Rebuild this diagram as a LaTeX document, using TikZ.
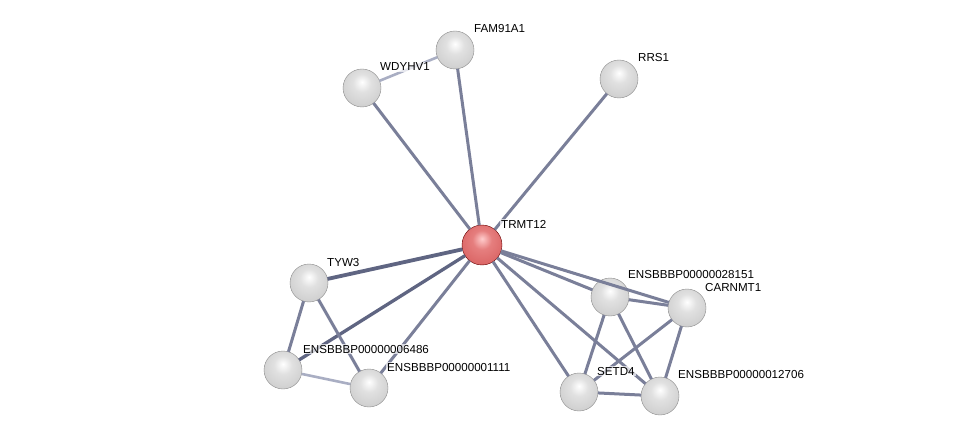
\documentclass[tikz,border=0pt]{standalone}
\usepackage{fontspec}
\setmainfont{Liberation Sans}
\usetikzlibrary{positioning}

\definecolor{edgecol}{HTML}{7A7F99}
\definecolor{edgedark}{HTML}{5F6582}
\definecolor{edgelight}{HTML}{A9AEC3}
\pgfdeclareradialshading{greyball}{\pgfpoint{0bp}{8bp}}{%
  color(0bp)=(white); color(12bp)=(white!88!black); color(32bp)=(white!80!black);
  color(44bp)=(white!70!black); color(60bp)=(white!58!black)}
\pgfdeclareradialshading{redball}{\pgfpoint{0bp}{8bp}}{%
  color(0bp)=(white!80!red); color(12bp)=(red!45!white!90!black); color(32bp)=(red!55!white!85!black);
  color(44bp)=(red!60!white!70!black); color(60bp)=(red!60!black)}

\begin{document}
\begin{tikzpicture}[
  x=1pt, y=-1pt,
  font=\fontsize{11.6}{13}\selectfont,
  prot/.style={circle, minimum size=38pt, inner sep=0pt, outer sep=0pt, shading=greyball, draw=white!55!black, line width=0.4pt},
  query/.style={prot, minimum size=40pt, shading=redball, draw=red!40!black},
  lbl/.style={anchor=base west, inner sep=1pt, fill=white, fill opacity=0.7, text opacity=1},
  link/.style={draw=edgecol, line width=3pt},
  strong/.style={link, draw=edgedark, line width=3.8pt},
  weak/.style={link, draw=edgelight, line width=2.6pt}
]
\useasboundingbox[fill=white] (0,0) rectangle (975,441);

% proteins
\node[query] (trmt12) at (482,245) {};
\node[prot] (fam91a1) at (455,50) {};
\node[prot] (wdyhv1) at (362,88) {};
\node[prot] (rrs1) at (619,79) {};
\node[prot] (tyw3) at (309,283) {};
\node[prot] (p6486) at (283,370) {};
\node[prot] (p1111) at (369,388) {};
\node[prot] (p28151) at (610,297) {};
\node[prot] (carnmt1) at (687,308) {};
\node[prot] (setd4) at (579,392) {};
\node[prot] (p12706) at (660,396) {};

% interactions
\draw[link] (trmt12) -- (fam91a1);
\draw[link] (trmt12) -- (wdyhv1);
\draw[link] (trmt12) -- (rrs1);
\draw[weak] (wdyhv1) -- (fam91a1);
\draw[strong] (trmt12) -- (tyw3);
\draw[strong, line width=3.3pt] (trmt12) -- (p6486);
\draw[link] (trmt12) -- (p1111);
\draw[link] (tyw3) -- (p6486);
\draw[link] (tyw3) -- (p1111);
\draw[weak] (p6486) -- (p1111);
\draw[link] (trmt12) -- (p28151);
\draw[link] (trmt12) -- (carnmt1);
\draw[link] (trmt12) -- (setd4);
\draw[link] (trmt12) -- (p12706);
\draw[link] (p28151) -- (carnmt1);
\draw[link] (p28151) -- (setd4);
\draw[link] (p28151) -- (p12706);
\draw[link] (carnmt1) -- (setd4);
\draw[link] (carnmt1) -- (p12706);
\draw[link] (setd4) -- (p12706);

% labels
\node[lbl] (trmt12-l) at ([shift={(18,-17)}]trmt12.center) {TRMT12};
\node[lbl] (fam91a1-l) at ([shift={(18,-17)}]fam91a1.center) {FAM91A1};
\node[lbl] (wdyhv1-l) at ([shift={(17,-17)}]wdyhv1.center) {WDYHV1};
\node[lbl] (rrs1-l) at ([shift={(18,-17)}]rrs1.center) {RRS1};
\node[lbl] (tyw3-l) at ([shift={(17,-17)}]tyw3.center) {TYW3};
\node[lbl] (p6486-l) at ([shift={(19,-17)}]p6486.center) {ENSBBBP00000006486};
\node[lbl] (p1111-l) at ([shift={(17,-17)}]p1111.center) {ENSBBBP00000001111};
\node[lbl] (p28151-l) at ([shift={(17,-19)}]p28151.center) {ENSBBBP00000028151};
\node[lbl] (carnmt1-l) at ([shift={(17,-17)}]carnmt1.center) {CARNMT1};
\node[lbl] (setd4-l) at ([shift={(17,-17)}]setd4.center) {SETD4};
\node[lbl] (p12706-l) at ([shift={(17,-18)}]p12706.center) {ENSBBBP00000012706};

\end{tikzpicture}
\end{document}
